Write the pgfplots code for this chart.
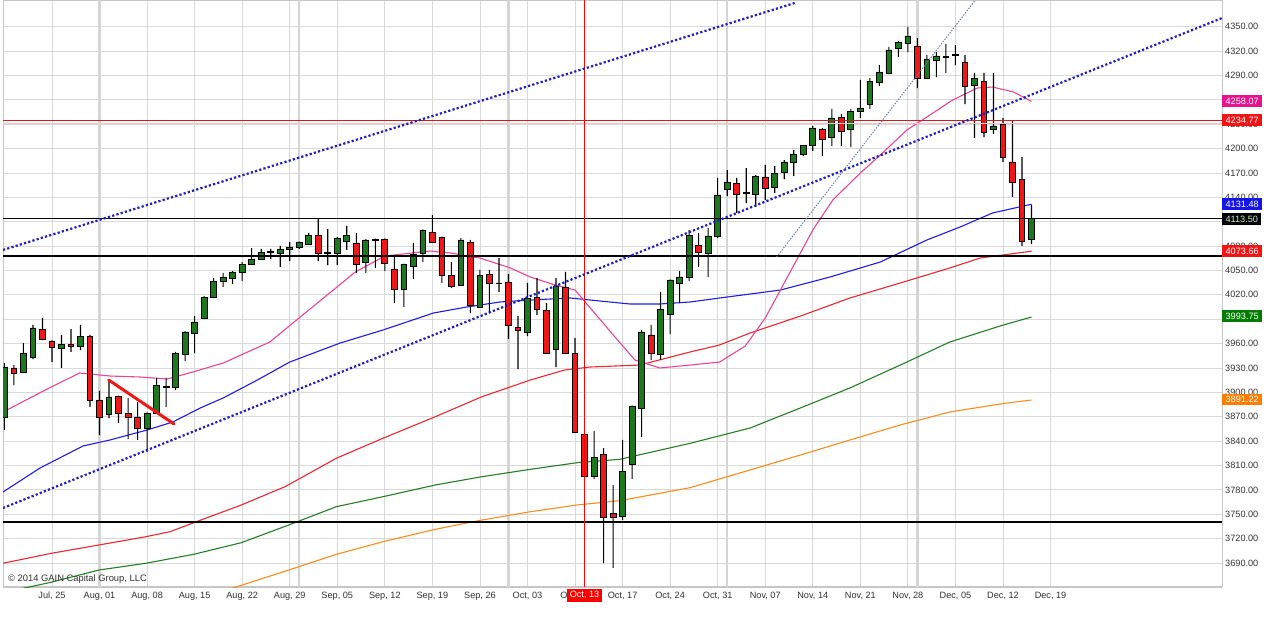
\documentclass[border=0pt]{standalone}
\usepackage{pgfplots}
\pgfplotsset{compat=1.18}
\usepackage{pgfplotstable}
\usepackage{fontspec}
\setmainfont{Liberation Sans}

\definecolor{cgreen}{RGB}{28,120,28}
\definecolor{cred}{RGB}{238,24,24}
\definecolor{labelgray}{RGB}{50,50,50}
\definecolor{pinkma}{RGB}{235,70,150}
\definecolor{bluema}{RGB}{30,30,220}
\definecolor{redma}{RGB}{235,40,50}
\definecolor{greenma}{RGB}{40,125,40}
\definecolor{orangema}{RGB}{255,140,30}
\definecolor{pinkbox}{RGB}{230,20,140}
\definecolor{redbox}{RGB}{240,20,20}
\definecolor{bluebox}{RGB}{20,20,230}
\definecolor{greenbox}{RGB}{0,125,0}
\definecolor{orangebox}{RGB}{255,125,0}
\definecolor{trendblue}{RGB}{30,30,195}
\definecolor{thinblue}{RGB}{105,125,175}
\definecolor{hred}{RGB}{200,30,30}

\pgfplotstableread{
i o h l c
-5 3869.7 3936.1 3853.7 3931.2
-4 3930.0 3933.6 3909.0 3923.8
-3 3925.0 3960.7 3923.8 3948.4
-2 3943.5 3982.9 3941.0 3979.2
-1 3977.9 3991.5 3964.4 3965.7
0 3963.2 3964.0 3937.3 3955.8
1 3954.6 3970.6 3930.0 3959.5
2 3959.5 3977.9 3949.7 3957.0
3 3957.0 3982.9 3952.1 3969.3
4 3969.3 3970.6 3882.0 3890.6
5 3890.6 3901.7 3847.5 3869.7
6 3873.4 3915.2 3868.4 3894.3
7 3895.5 3896.0 3862.3 3874.6
8 3874.6 3893.1 3842.6 3869.7
9 3869.7 3888.1 3841.4 3856.1
10 3856.1 3875.5 3826.6 3874.6
11 3874.6 3917.7 3874.0 3909.0
12 3906.6 3917.7 3882.0 3907.3
13 3906.6 3949.7 3902.9 3948.4
14 3947.2 3975.5 3938.6 3974.3
15 3973.0 3993.9 3948.4 3986.6
16 3991.5 4018.6 3990.0 4017.3
17 4017.3 4040.7 4016.1 4037.0
18 4037.0 4046.9 4029.7 4042.0
19 4040.7 4049.3 4033.3 4048.1
20 4048.1 4060.4 4037.0 4057.9
21 4057.9 4077.6 4057.0 4064.1
22 4064.1 4076.4 4062.9 4072.7
23 4072.5 4076.4 4064.1 4073.0
24 4071.5 4080.1 4054.3 4076.4
25 4076.4 4085.0 4061.6 4078.9
26 4078.9 4085.5 4076.4 4085.0
27 4082.5 4096.0 4082.0 4093.6
28 4093.6 4113.3 4061.6 4071.5
29 4071.5 4101.0 4056.7 4072.0
30 4071.5 4091.1 4056.7 4089.9
31 4086.2 4104.7 4075.2 4093.6
32 4083.8 4096.0 4046.9 4057.9
33 4060.4 4088.7 4046.9 4087.5
34 4087.5 4089.2 4053.0 4088.7
35 4088.7 4089.5 4049.3 4059.2
36 4051.8 4066.5 4009.9 4027.2
37 4027.2 4058.5 4005.0 4057.9
38 4055.5 4083.8 4039.5 4070.2
39 4071.5 4100.5 4060.4 4099.7
40 4097.3 4118.2 4083.8 4085.0
41 4091.1 4091.5 4034.6 4044.4
42 4044.4 4060.4 4028.4 4030.9
43 4032.1 4089.9 4031.5 4087.5
44 4085.0 4087.5 3997.6 4007.5
45 4005.0 4050.6 4004.0 4044.4
46 4045.6 4050.6 3997.6 4034.6
47 4034.1 4065.3 4023.5 4034.6
48 4035.8 4045.6 3965.7 3982.9
49 3980.4 3993.9 3928.7 3976.7
50 3974.3 4034.6 3969.3 4016.1
51 4017.3 4040.7 3995.2 4002.6
52 4001.3 4009.9 3947.5 3948.4
53 3953.3 4040.7 3931.2 4030.9
54 4029.7 4048.1 3947.2 3948.4
55 3948.4 3966.9 3850.5 3851.2
56 3848.7 3849.5 3796.3 3797.0
57 3797.0 3852.4 3793.4 3820.4
58 3824.2 3831.5 3690.0 3746.6
59 3751.5 3786.0 3683.9 3746.6
60 3747.8 3841.4 3742.9 3803.2
61 3811.8 3884.0 3793.4 3883.2
62 3880.8 3976.7 3845.0 3974.3
63 3970.6 3982.9 3939.8 3948.4
64 3947.2 4023.5 3939.8 4002.6
65 3996.4 4039.0 3971.8 4038.3
66 4034.6 4049.3 4009.9 4042.0
67 4042.0 4099.7 4037.0 4093.6
68 4081.3 4096.0 4054.3 4072.7
69 4071.5 4102.2 4042.0 4092.4
70 4092.4 4163.8 4089.9 4142.9
71 4150.2 4173.6 4141.6 4158.9
72 4157.6 4163.8 4120.7 4144.1
73 4145.0 4176.0 4133.0 4145.6
74 4144.1 4167.4 4128.1 4166.2
75 4165.0 4179.8 4136.7 4151.5
76 4152.7 4178.5 4145.3 4169.9
77 4171.1 4185.9 4162.5 4183.5
78 4183.5 4198.2 4166.2 4193.3
79 4193.3 4204.4 4190.8 4203.2
80 4203.2 4227.8 4197.0 4225.3
81 4224.1 4225.3 4190.8 4211.8
82 4214.2 4248.7 4203.2 4237.6
83 4238.8 4242.5 4203.2 4221.6
84 4224.1 4248.7 4201.9 4246.2
85 4246.2 4284.4 4237.6 4249.9
86 4254.8 4286.8 4248.7 4283.1
87 4281.9 4302.8 4277.0 4294.2
88 4293.0 4325.0 4291.7 4321.3
89 4323.7 4332.3 4312.7 4331.1
90 4329.9 4349.6 4318.8 4338.5
91 4326.2 4336.0 4274.5 4286.8
92 4286.8 4315.1 4285.6 4310.2
93 4309.0 4318.8 4288.0 4313.9
94 4312.7 4328.7 4293.0 4313.2
95 4315.1 4327.4 4302.8 4315.6
96 4306.5 4315.1 4254.8 4277.0
97 4278.2 4293.0 4213.0 4286.8
98 4283.1 4293.0 4214.2 4220.4
99 4222.9 4293.0 4217.9 4227.8
100 4230.2 4237.6 4183.5 4189.6
101 4183.5 4233.9 4140.4 4158.9
102 4162.5 4189.6 4080.1 4086.2
103 4088.7 4130.5 4082.5 4113.5
}\candles

\pgfplotsset{
  base/.style={scale only axis, width=1219bp, height=587bp,
    at={(3bp,30bp)}, anchor=south west,
    xmin=-5.15, xmax=123.03, ymin=3660.5, ymax=4382.8}
}
\tikzset{
  valbox/.style={anchor=west, inner xsep=3.4bp, inner ysep=2.7bp, text=white,
    font=\fontsize{9.2}{10}\selectfont}
}

\begin{document}
\begin{tikzpicture}
\useasboundingbox (0,0) rectangle (1265bp,617bp);
\fill[white] (0,0) rectangle (1265bp,617bp);

% main axis: grid, frame, ticks, moving averages
\begin{axis}[base,
  separate axis lines,
  axis line style={draw=gray!45, line width=1bp},
  x axis line style={line width=2.2bp},
  major tick length=0pt,
  grid=major,
  major grid style={draw=gray!30, line width=0.8bp},
  xtick={0,5,...,105},
  xticklabels={{Jul, 25},{Aug, 01},{Aug, 08},{Aug, 15},{Aug, 22},{Aug, 29},{Sep, 05},{Sep, 12},{Sep, 19},{Sep, 26},{Oct, 03},{Oct, 10},{Oct, 17},{Oct, 24},{Oct, 31},{Nov, 07},{Nov, 14},{Nov, 21},{Nov, 28},{Dec, 05},{Dec, 12},{Dec, 19}},
  xticklabel style={font=\fontsize{9.2}{10}\selectfont, text=labelgray, anchor=north, inner sep=0pt, yshift=-4.5bp},
  extra x ticks={5,26,48,71,91},
  extra x tick labels={},
  extra x tick style={grid=major, major grid style={draw=gray!33, line width=2.2bp}},
  ytick={3690,3720,...,4350},
  yticklabel pos=right,
  yticklabel style={font=\fontsize{9.2}{10}\selectfont, text=labelgray, anchor=west, inner sep=0pt, xshift=3bp},
  /pgf/number format/fixed,
  /pgf/number format/fixed zerofill,
  /pgf/number format/precision=2,
  /pgf/number format/1000 sep={},
  /pgf/number format/assume math mode=true,
]
% orange MA
\addplot[orangema, line width=1.1bp] coordinates {(18.7,3658.0) (24.9,3681.4) (29.9,3700.7) (34.8,3716.2) (40.3,3731.5) (45.2,3742.9) (50.3,3753.1) (55.2,3761.4) (59.7,3766.7) (67.1,3782.7) (73.4,3804.5) (78.7,3822.9) (83.9,3841.4) (89.2,3859.9) (94.4,3875.8) (99.7,3885.7) (103.0,3890.6)};
% green MA
\addplot[greenma, line width=1.1bp] coordinates {(-3.4,3658.0) (-0.1,3666.3) (4.94,3681.4) (9.88,3689.7) (14.9,3700.7) (19.9,3715.0) (24.9,3736.8) (29.9,3759.3) (34.8,3771.6) (40.3,3786.0) (45.2,3796.2) (50.3,3805.3) (55.2,3813.4) (59.7,3817.6) (67.1,3837.3) (73.4,3856.1) (78.7,3880.8) (83.9,3905.4) (89.2,3933.6) (94.4,3961.9) (99.7,3981.7) (103.0,3992.7)};
% red MA
\addplot[redma, line width=1.1bp] coordinates {(-5.15,3689.7) (-0.1,3701.9) (4.94,3712.2) (9.88,3722.4) (12.4,3728.5) (14.9,3739.6) (19.9,3761.4) (24.5,3783.9) (29.9,3818.9) (34.8,3843.5) (40.3,3870.0) (45.2,3894.6) (50.3,3915.2) (53.9,3927.5) (56.6,3931.2) (61.8,3933.6) (67.1,3949.7) (70.2,3958.3) (73.4,3973.0) (78.7,3993.9) (83.9,4016.1) (89.2,4034.6) (94.4,4053.0) (97.6,4065.3) (103.0,4073.7)};
% blue MA
\addplot[bluema, line width=1.1bp] coordinates {(-5.15,3777.4) (-1.26,3806.9) (3.26,3834.0) (6.1,3841.4) (10.0,3853.7) (12.7,3863.5) (15.6,3880.8) (18.0,3893.1) (21.6,3915.2) (25.0,3937.3) (30.3,3960.7) (34.8,3976.7) (40.1,3997.6) (43.6,4005.0) (47.1,4011.2) (50.3,4013.6) (54.5,4016.1) (56.6,4013.6) (60.8,4008.7) (63.9,4008.7) (67.1,4011.2) (70.2,4016.1) (76.6,4025.9) (81.8,4041.9) (87.1,4060.4) (92.0,4087.5) (95.5,4103.5) (98.9,4120.7) (103.0,4131.5)};
% pink MA
\addplot[pinkma, line width=1.1bp] coordinates {(-5.15,3875.8) (-0.7,3902.9) (2.9,3923.8) (6.1,3920.1) (9.3,3918.9) (12.1,3916.4) (14.8,3925.0) (18.0,3936.1) (22.9,3961.9) (26.1,3992.7) (29.2,4022.3) (31.9,4048.1) (35.0,4067.8) (39.7,4073.9) (41.9,4071.5) (45.0,4065.3) (48.2,4053.0) (50.3,4041.9) (52.9,4032.1) (55.0,4025.9) (56.6,4003.8) (59.2,3968.1) (61.3,3939.8) (63.9,3930.0) (67.1,3933.6) (70.2,3937.3) (72.9,3957.0) (75.0,3991.5) (76.6,4025.9) (78.3,4062.9) (80.0,4099.7) (82.1,4136.7) (85.0,4169.9) (87.1,4192.0) (89.9,4222.9) (92.0,4238.8) (94.7,4259.7) (97.3,4274.5) (98.9,4275.7) (101.1,4269.6) (103.0,4258.1)};
\end{axis}

% wicks
\begin{axis}[base, hide axis, ybar stacked, bar width=1.1bp]
\addplot[draw=none, fill=none] table[x=i, y=l] {\candles};
\addplot[draw=none, fill=black] table[x=i, y expr=\thisrow{h}-\thisrow{l}] {\candles};
\end{axis}

% bodies
\begin{axis}[base, hide axis, ybar stacked, bar width=5.8bp]
\addplot[draw=none, fill=none] table[x=i, y expr={min(\thisrow{o},\thisrow{c})}] {\candles};
\addplot[draw=black, fill=cgreen, line width=0.9bp] table[x=i, y expr={max(\thisrow{c}-\thisrow{o},0)}] {\candles};
\addplot[draw=black, fill=cred, line width=0.9bp] table[x=i, y expr={max(\thisrow{o}-\thisrow{c},0)}] {\candles};
\end{axis}

% overlay lines
\begin{axis}[base, hide axis]
\addplot[black, line width=2.2bp] coordinates {(-5.15,4067.8) (123.03,4067.8)};
\addplot[black, line width=2.2bp] coordinates {(-5.15,3740.9) (123.03,3740.9)};
\addplot[black, line width=1bp] coordinates {(-5.15,4113.5) (123.03,4113.5)};
\addplot[red!25, line width=0.8bp] coordinates {(-5.15,4231.2) (123.03,4231.2)};
\addplot[hred, line width=1bp] coordinates {(-5.15,4234.77) (123.03,4234.77)};
\addplot[red, line width=1bp] coordinates {(56,3660.5) (56,4382.8)};
\addplot[trendblue, line width=2.2bp, dash pattern=on 2.2bp off 2.2bp] coordinates {(-5.15,3757.7) (123.03,4360.6)};
\addplot[trendblue, line width=2.2bp, dash pattern=on 2.2bp off 2.2bp] coordinates {(-5.15,4075.2) (78.1,4379.1)};
\addplot[thinblue, line width=1bp, dash pattern=on 1.4bp off 1.4bp] coordinates {(76.2,4066.6) (97.1,4382.8)};
\addplot[cred, line width=3bp, line cap=round] coordinates {(5.96,3915.2) (12.83,3861.1)};
\end{axis}

% value boxes and labels
\begin{axis}[base, hide axis, clip=false]
\node[valbox, fill=pinkbox] at (axis cs:123.03,4258.07) {4258.07};
\node[valbox, fill=redbox] at (axis cs:123.03,4234.77) {4234.77};
\node[valbox, fill=bluebox] at (axis cs:123.03,4131.48) {4131.48};
\node[valbox, fill=black, text={rgb,255:red,215;green,240;blue,205}] at (axis cs:123.03,4113.50) {4113.50};
\node[valbox, fill=redbox] at (axis cs:123.03,4073.66) {4073.66};
\node[valbox, fill=greenbox] at (axis cs:123.03,3993.75) {3993.75};
\node[valbox, fill=orangebox] at (axis cs:123.03,3891.22) {3891.22};
\node[anchor=north, fill=red, text=white, inner xsep=2.7bp, inner ysep=2.9bp, yshift=-1.5bp, font=\fontsize{9.2}{10}\selectfont] at (axis cs:56,3660.5) {Oct, 13};
\end{axis}
\node[anchor=west, inner sep=0pt, text=labelgray, font=\fontsize{9.4}{10}\selectfont] at (8bp,38bp) {© 2014 GAIN Capital Group, LLC};
\end{tikzpicture}
\end{document}
